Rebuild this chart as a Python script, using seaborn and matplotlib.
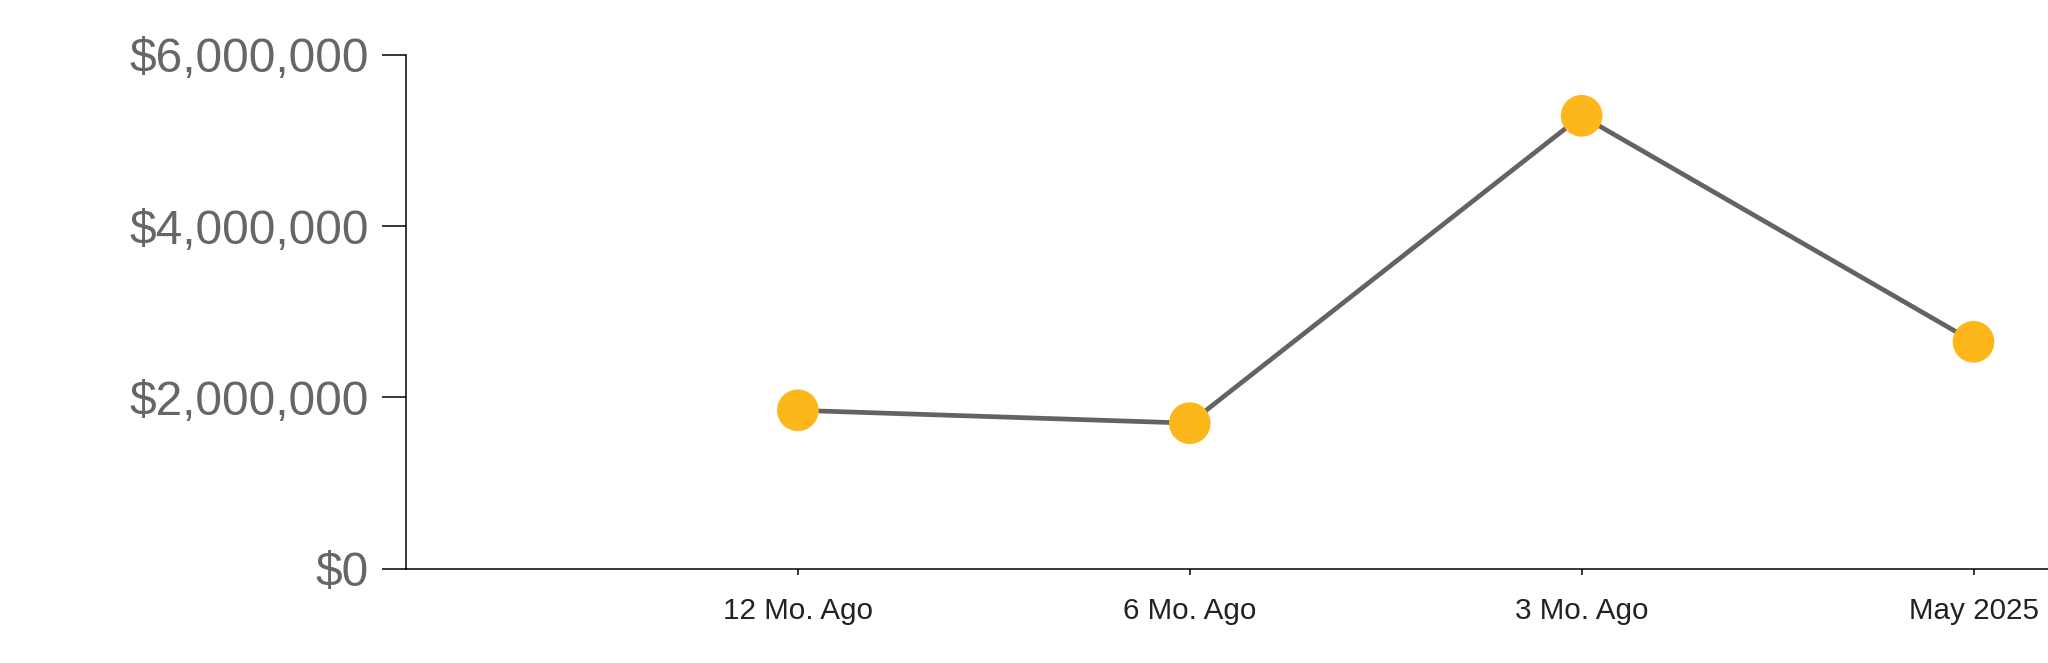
import seaborn as sns
import pandas as pd
import matplotlib.pyplot as plt
from matplotlib.ticker import FuncFormatter

# values
periods = ['12 Mo. Ago', '6 Mo. Ago', '3 Mo. Ago', 'May 2025']
values = [1850000, 1700000, 5290000, 2650000]
y_ticks = [0, 2000000, 4000000, 6000000]

line_color = '#636363'
dot_color = '#FDB71A'

sns.set_theme(style='ticks')
plt.rcParams['font.family'] = ['Liberation Sans', 'DejaVu Sans']

df = pd.DataFrame({'Period': periods, 'Value': values})

fig = plt.figure(figsize=(20.48, 6.63), dpi=100)
ax = fig.add_axes([406 / 2048, 94.3 / 663, 1 - 406 / 2048, 513.7 / 663])

sns.lineplot(data=df, x='Period', y='Value', color=line_color,
             linewidth=3.4, ax=ax, zorder=2)
sns.scatterplot(data=df, x='Period', y='Value', color=dot_color,
                s=900, edgecolor='none', linewidth=0, ax=ax, zorder=3)

ax.set_xlim(-1, 3.19)
ax.set_ylim(0, 6000000)
ax.set_yticks(y_ticks)
ax.yaxis.set_major_formatter(FuncFormatter(lambda v, p: '${:,.0f}'.format(v)))
ax.set_xlabel('')
ax.set_ylabel('')

sns.despine(ax=ax)
for side in ['left', 'bottom']:
    ax.spines[side].set_color('black')
    ax.spines[side].set_linewidth(1.1)

ax.tick_params(axis='y', length=17, width=1.1, color='black', pad=9.5,
               labelsize=34.5, labelcolor='#666666')
ax.tick_params(axis='x', length=4.5, width=1.1, color='black', pad=16,
               labelsize=21.3, labelcolor='#222222')

fig.savefig('out.png', dpi=100, facecolor='white')
